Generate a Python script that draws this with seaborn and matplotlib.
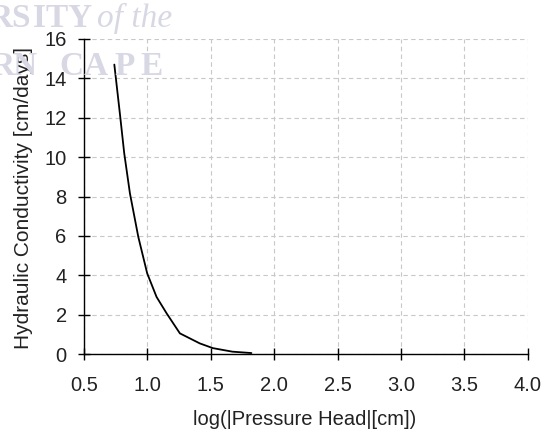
import matplotlib
matplotlib.use("Agg")
import matplotlib.pyplot as plt
import seaborn as sns
import pandas as pd

log_head = [0.739, 0.783, 0.817, 0.862, 0.928, 0.998, 1.072, 1.151, 1.256, 1.413, 1.516, 1.67, 1.82]
conductivity = [14.7, 12.2, 10.2, 8.16, 5.95, 4.1, 2.9, 2.07, 1.05, 0.54, 0.3, 0.12, 0.05]
x_ticks = [0.5, 1.0, 1.5, 2.0, 2.5, 3.0, 3.5, 4.0]
y_ticks = [0, 2, 4, 6, 8, 10, 12, 14, 16]

sns.set_style("white")
plt.rcParams['font.family'] = ['Liberation Sans', 'DejaVu Sans']

df = pd.DataFrame({"x": log_head, "y": conductivity})

W, H = 547, 436
fig = plt.figure(figsize=(W / 100, H / 100), dpi=100)
ax = fig.add_axes([0.1536, 0.188, 0.8114, 0.7226])

# faint scanned watermark (letter-spaced serif caps)
wm = dict(fontsize=24, family="Liberation Serif", fontweight="bold", color="#d8d8e4",
          va="baseline", ha="left", zorder=0)
for ch, px in zip("RSITY", [-12, 11, 33, 45, 67]):
    fig.text(px / W, 1 - 27 / H, ch, **wm)
fig.text(97 / W, 1 - 27 / H, "of the", **{**wm, "fontstyle": "italic", "fontweight": "normal"})
for ch, px in zip("RNCAPE", [-10, 12, 59, 84, 114, 140]):
    fig.text(px / W, 1 - 75 / H, ch, **wm)
ax.patch.set_alpha(0)

sns.lineplot(data=df, x="x", y="y", ax=ax, color="black", linewidth=1.3)

ax.set_xlim(0.5, 4.0)
ax.set_ylim(0, 16)
ax.set_xticks(x_ticks)
ax.set_xticklabels([f"{v:.1f}" for v in x_ticks])
ax.set_yticks(y_ticks)
ax.set_yticklabels([str(v) for v in y_ticks])
ax.grid(True, color="#c8c8c8", linestyle=(0, (4, 3)), linewidth=0.8)
for s in ["top", "right"]:
    ax.spines[s].set_visible(False)
for s in ["left", "bottom"]:
    ax.spines[s].set_color("black")
    ax.spines[s].set_linewidth(1.0)
ax.tick_params(direction="inout", length=9, width=1.0, color="black", labelsize=14.5,
               labelcolor="#222222", bottom=True, left=True)
ax.tick_params(axis="x", pad=11)
ax.tick_params(axis="y", pad=8)
ax.set_xlabel("log(|Pressure Head|[cm])", fontsize=14.5, color="#222222")
ax.set_ylabel("Hydraulic Conductivity [cm/days]", fontsize=15, color="#222222")
ax.xaxis.set_label_coords(0.498, -0.178)
ax.yaxis.set_label_coords(-0.116, 0.495)

fig.savefig("out.png", dpi=100)
